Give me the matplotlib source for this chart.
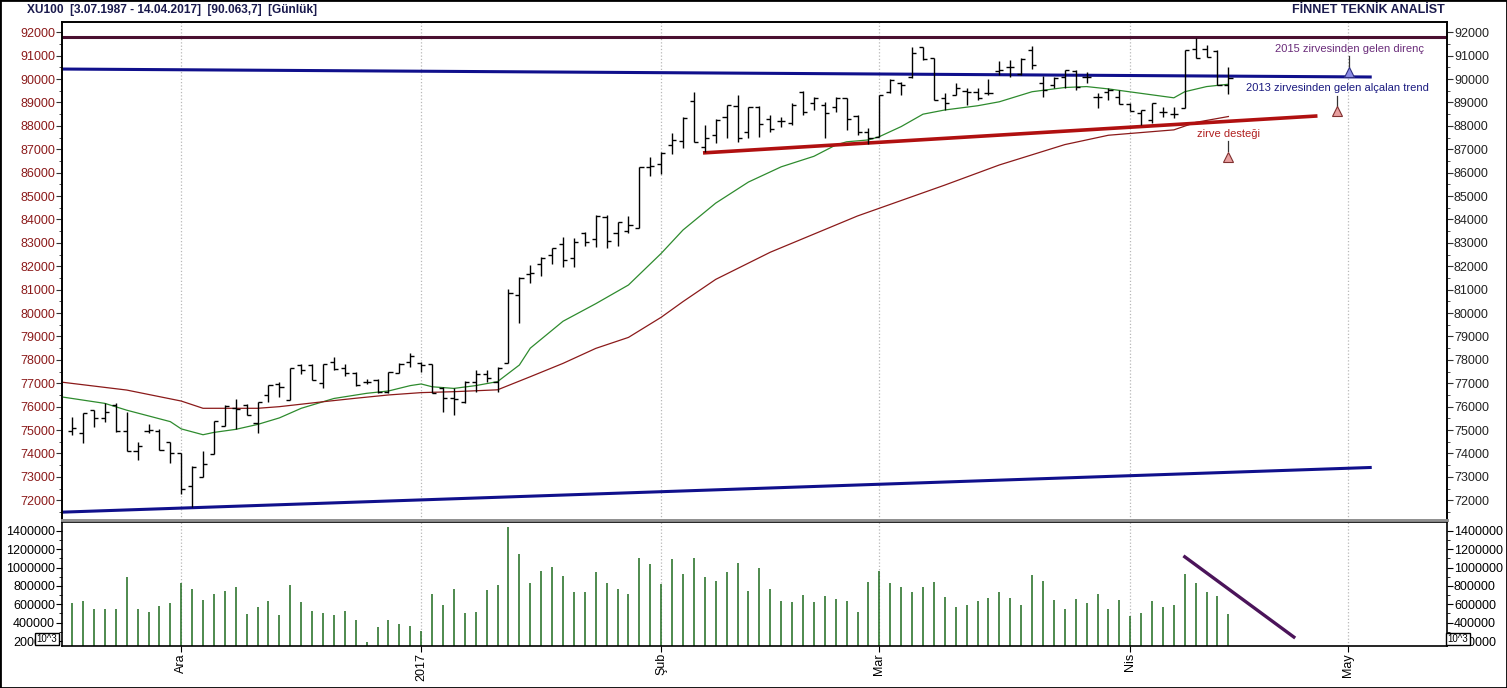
import numpy as np
import pandas as pd
import matplotlib
matplotlib.use("Agg")
import matplotlib.pyplot as plt
from matplotlib.patches import Rectangle
from matplotlib.ticker import MultipleLocator, FuncFormatter

plt.rcParams["font.family"] = ["Liberation Sans", "DejaVu Sans"]

# daily bars, first bar = 17.11.2016, last bar = 14.04.2017
START = "2016-11-17"
opens = [74950, 74890, 75860, 75530, 76070, 74970, 74100, 74980, 74970, 74470,
         74000, 72610, 73010, 73960, 75190, 75950, 76070, 75290, 76500, 76950,
         76280, 77780, 77780, 77000, 77920, 77640, 77420, 77040, 77140, 76640,
         77450, 77920, 77850, 77810, 76780, 76360, 76210, 77040, 77380, 77070,
         77850, 80770, 81650, 82100, 82480, 82950, 82340, 83410, 83160, 84120,
         83410, 83510, 83620, 86260, 86370, 87180, 87350, 89080, 87110, 87610,
         88390, 88860, 87750, 88820, 88280, 88210, 88110, 89430, 88960, 88890,
         88820, 89210, 88440, 87720, 87540, 89460, 89820, 90100, 91360, 90890,
         89180, 89320, 89490, 89460, 89390, 90350, 90530, 90220, 91240, 89850,
         89750, 90100, 90350, 90100, 89250, 89460, 89250, 88920, 88540, 88250,
         88610, 88490, 88780, 91290, 91290, 91220, 89750]
highs = [75570, 75710, 75860, 76140, 76140, 75790, 74500, 75260, 75030, 74500,
         74000, 73480, 74120, 75400, 76070, 76330, 76100, 76190, 76930, 77070,
         77640, 77810, 77810, 77810, 78140, 77810, 77500, 77180, 77180, 77500,
         77850, 78280, 77920, 77810, 76850, 76780, 77100, 77570, 77570, 77710,
         81010, 81550, 82050, 82410, 82770, 83260, 83190, 83480, 84190, 84190,
         83910, 84150, 86230, 86660, 86870, 87680, 88370, 89460, 88040, 88280,
         88890, 89320, 88820, 88860, 88470, 88390, 88960, 89490, 89250, 89040,
         89250, 89210, 88470, 87920, 89320, 89990, 89890, 91390, 91360, 90920,
         89390, 89850, 89610, 89610, 89990, 90790, 90820, 90890, 91430, 90150,
         90100, 90390, 90390, 90320, 89390, 89610, 89530, 88960, 88680, 88960,
         88820, 88820, 91240, 91740, 91460, 91240, 90530]
lows = [74800, 74430, 75150, 75360, 74930, 74100, 73720, 74860, 74150, 73580,
        72270, 71700, 73010, 73960, 75190, 75050, 75640, 74860, 76210, 76430,
        76280, 77380, 77140, 76810, 77570, 77310, 76900, 76950, 76570, 76570,
        77420, 77710, 77500, 76600, 75790, 75640, 76140, 76640, 77070, 76640,
        77850, 79580, 81300, 81600, 82080, 81980, 81950, 82880, 82840, 82770,
        82880, 83410, 83620, 85870, 85940, 86800, 87040, 87330, 86900, 87250,
        87470, 87300, 87500, 87540, 87750, 87970, 88040, 88470, 88680, 87470,
        88610, 87820, 87610, 87210, 87540, 89390, 89320, 90060, 90820, 89110,
        88680, 89320, 88890, 89110, 89320, 90180, 90100, 90180, 90430, 89250,
        89610, 89610, 89530, 89820, 88780, 89110, 88920, 88640, 88040, 88110,
        88390, 88320, 88780, 90890, 90960, 89750, 89350]
closes = [75100, 75710, 75530, 75790, 74970, 74100, 74320, 75000, 74150, 74000,
          72470, 73400, 73550, 75390, 76030, 75900, 75640, 76190, 76930, 76850,
          77640, 77570, 77140, 77810, 77600, 77420, 76930, 77040, 76640, 77500,
          77810, 78180, 77780, 76600, 76380, 76330, 77070, 77380, 77240, 77640,
          80840, 81510, 81720, 82340, 82770, 82270, 83020, 83020, 84160, 83090,
          83910, 83760, 86230, 86290, 86830, 87400, 88350, 87330, 87470, 88250,
          88890, 87470, 88820, 88070, 87850, 88210, 88890, 88580, 89180, 88560,
          89210, 88280, 87750, 87470, 89320, 89960, 89750, 91100, 90860, 89110,
          88960, 89630, 89430, 89180, 89420, 90390, 90530, 90860, 90600, 89550,
          90030, 90390, 89680, 90100, 89250, 89530, 88920, 88640, 88670, 88960,
          88610, 88490, 91240, 90890, 90960, 89750, 90060]
# volume as shown on the axis (x 10^3), here in thousands of those units
volume_k = [618, 633, 545, 545, 553, 898, 545, 516, 578, 615,
            836, 764, 644, 709, 742, 789, 491, 567, 640, 480,
            811, 622, 524, 506, 480, 527, 426, 189, 353, 426,
            389, 360, 313, 709, 589, 767, 506, 513, 753, 808,
            1444, 1143, 835, 966, 1009, 908, 730, 734, 955, 835,
            770, 708, 1107, 1042, 824, 1092, 926, 1107, 897, 857,
            955, 1053, 748, 995, 770, 640, 629, 705, 629, 694,
            658, 640, 520, 846, 966, 835, 792, 734, 792, 842,
            679, 574, 592, 640, 669, 734, 669, 596, 916, 851,
            644, 545, 662, 618, 713, 545, 644, 469, 509, 636,
            571, 596, 927, 833, 731, 695, 495]

# moving averages (bar index, value)
ma_fast_day = [-1, 3, 5, 9, 10, 12, 13, 15, 17, 19, 21, 24, 27, 29, 31, 32, 33,
               35, 37, 39, 41, 42, 45, 48, 51, 54, 56, 59, 62, 65, 68, 70, 71,
               73, 74, 76, 78, 80, 83, 85, 88, 91, 93, 95, 98, 101, 102, 104, 106]
ma_fast = [76420, 76140, 75850, 75360, 75050, 74800, 74900, 75030, 75240, 75520,
           75930, 76350, 76570, 76670, 76900, 76970, 76850, 76780, 76900, 77070,
           77780, 78500, 79650, 80400, 81200, 82550, 83550, 84700, 85600, 86250,
           86700, 87180, 87320, 87400, 87540, 87970, 88500, 88680, 88860, 89030,
           89460, 89640, 89680, 89580, 89390, 89200, 89460, 89680, 89780]
ma_slow_day = [-1, 5, 10, 12, 17, 19, 23, 26, 29, 32, 35, 39, 42, 45, 48, 51, 54,
               56, 59, 64, 72, 80, 85, 91, 95, 101, 103, 106]
ma_slow = [77050, 76710, 76240, 75930, 75930, 76000, 76210, 76360, 76500, 76600,
           76640, 76720, 77280, 77850, 78490, 78960, 79820, 80490, 81440, 82600,
           84150, 85470, 86330, 87200, 87600, 87830, 88150, 88400]

# hand drawn lines (bar index, value)
resist_2015 = 91800
desc_day, desc_val = [-1, 119], [90430, 90090]
rise_day, rise_val = [-1, 119], [71490, 73400]
support_day, support_val = [58, 114], [86850, 88420]
vol_trend_day, vol_trend_val = [102, 112], [1116000, 244000]

month_dates = ["2016-12-01", "2017-01-02", "2017-02-01", "2017-03-01", "2017-04-03", "2017-05-01"]
month_labels = ["Ara", "2017", "Şub", "Mar", "Nis", "May"]

W, H = 1507, 688
fig = plt.figure(figsize=(W / 100, H / 100), dpi=100)
ax = fig.add_axes([62 / W, 1 - 520 / H, 1385 / W, 498 / H])
axv = fig.add_axes([62 / W, 1 - 646 / H, 1385 / W, 124 / H])

x = np.arange(len(opens))
dates = pd.bdate_range(START, periods=140)
month_pos = [dates.get_loc(pd.Timestamp(d)) for d in month_dates]
XLIM = (-0.93, 126.04)

# price panel
ax.axhline(resist_2015, color="#4a1030", lw=2.2, zorder=2)
ax.plot(desc_day, desc_val, color="#10108c", lw=2.2, zorder=2)
ax.plot(rise_day, rise_val, color="#10108c", lw=2.2, zorder=2)
ax.plot(ma_fast_day, ma_fast, color="#2e8b2e", lw=0.9, zorder=3)
ax.plot(ma_slow_day, ma_slow, color="#8b1a1a", lw=0.9, zorder=3)
ax.plot(support_day, support_val, color="#b01010", lw=2.6, zorder=3)

ax.vlines(x, lows, highs, color="black", lw=1.0, zorder=4)
ax.hlines(opens, x - 0.38, x, color="black", lw=1.0, zorder=4)
ax.hlines(closes, x, x + 0.38, color="black", lw=1.0, zorder=4)

notes = [
    (117.1, 91290, 90990, 90520, 90300, "2015 zirvesinden gelen direnç", "#6a2c7a", "#8c8ce6", "#303080"),
    (116.0, 89620, 89280, 88850, 88630, "2013 zirvesinden gelen alçalan trend", "#1a1a80", "#e8a0a0", "#803030"),
    (106.0, 87650, 87350, 86930, 86670, "zirve desteği", "#b02020", "#e8a0a0", "#803030"),
]
for nx, ty, s0, s1, tri, txt, tc, fc, ec in notes:
    ax.text(nx, ty, txt, ha="center", va="center", fontsize=8, color=tc, zorder=5)
    ax.plot([nx, nx], [s0, s1], color="#333333", lw=0.9, zorder=5)
    ax.plot(nx, tri, marker="^", ms=7, mfc=fc, mec=ec, mew=0.8, zorder=5)

ax.set_xlim(*XLIM)
ax.set_ylim(71156, 92440)
ax.set_yticks(np.arange(72000, 92001, 1000))
ax.yaxis.set_minor_locator(MultipleLocator(500))
ax.set_xticks(month_pos)
ax.grid(axis="x", color="#b8b8b8", linestyle=":", lw=0.9)
ax.tick_params(axis="x", length=0, labelbottom=False)
ax.tick_params(axis="y", which="major", direction="out", length=4, labelsize=9,
               labelcolor="#8b1a1a", color="#333333", pad=1)
ax.tick_params(axis="y", which="minor", direction="out", length=2, color="#333333")
ax2 = ax.twinx()
ax2.set_ylim(ax.get_ylim())
ax2.set_yticks(np.arange(72000, 92001, 1000))
ax2.yaxis.set_minor_locator(MultipleLocator(500))
ax2.tick_params(axis="y", which="major", direction="out", length=4, labelsize=9,
                labelcolor="#222222", color="#333333", pad=1)
ax2.tick_params(axis="y", which="minor", direction="out", length=2, color="#333333")
for a in (ax, ax2):
    for s in a.spines.values():
        s.set_color("black")
        s.set_linewidth(1.2)
    a.spines["bottom"].set_color("#909090")
    a.spines["bottom"].set_linewidth(2)

# volume panel
vol = np.array(volume_k) * 1000
VYLIM = (146700, 1494600)
axv.vlines(x, VYLIM[0], vol, color="#1e6b1e", lw=1.1)
axv.plot(vol_trend_day, vol_trend_val, color="#4b145a", lw=2.4)
axv.set_xlim(*XLIM)
axv.set_ylim(*VYLIM)
axv.set_yticks(np.arange(200000, 1400001, 200000))
axv.yaxis.set_minor_locator(MultipleLocator(100000))
axv.yaxis.set_major_formatter(FuncFormatter(lambda v, p: f"{v:.0f}"))
axv.set_xticks(month_pos)
axv.set_xticklabels(month_labels, rotation=90, fontsize=9)
axv.grid(axis="x", color="#b8b8b8", linestyle=":", lw=0.9)
axv.tick_params(axis="x", direction="out", length=4, pad=1)
axv.tick_params(axis="y", which="major", direction="out", length=4, labelsize=9,
                labelleft=True, labelright=True, right=True, pad=1)
axv.tick_params(axis="y", which="minor", direction="out", length=2, right=True)
for s in axv.spines.values():
    s.set_color("black")
    s.set_linewidth(1.2)

# "10^3" unit boxes sit on top of the 200000 labels, as in the source chart
box = dict(boxstyle="square,pad=0.15", fc="white", ec="black", lw=1)
fig.text(47 / W, 1 - 639 / H, "10^3", fontsize=7, ha="center", va="center", bbox=box)
fig.text(1458 / W, 1 - 639 / H, "10^3", fontsize=7, ha="center", va="center", bbox=box)

fig.text(27 / W, 1 - 10 / H, "XU100  [3.07.1987 - 14.04.2017]  [90.063,7]  [Günlük]",
         fontsize=8.6, fontweight="bold", color="#1a1a4d", va="center")
fig.text(1445 / W, 1 - 10 / H, "FİNNET TEKNİK ANALİST",
         fontsize=9, fontweight="bold", color="#1a1a4d", va="center", ha="right")
fig.add_artist(Rectangle((0, 0), 1, 1, transform=fig.transFigure, fill=False,
                         ec="black", lw=2))

fig.savefig("out.png", dpi=100)
